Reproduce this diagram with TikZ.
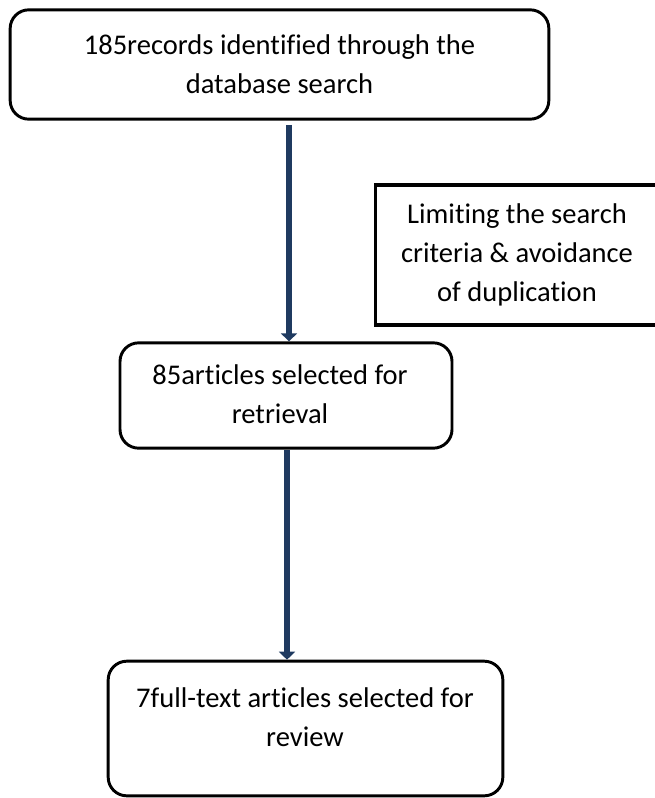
\documentclass[tikz,border=0pt]{standalone}
\usepackage{fontspec}
\setmainfont[Ligatures=NoCommon]{Carlito}
\usepackage{tikz}
\usepackage{xcolor}
\usetikzlibrary{positioning, fit, arrows.meta}

\definecolor{arrowblue}{HTML}{1F3A60}

\begin{document}
\begin{tikzpicture}[x=0.75pt, y=-0.75pt]
                % Define the styles for the boxes and the arrows
                \tikzstyle{roundbox}=[draw, line width=2.2pt, rounded corners=14pt, align=center, font=\fontsize{21.4}{29}\selectfont, inner sep=0pt];
                \tikzstyle{squarebox}=[draw, line width=2.4pt, align=center, font=\fontsize{21.4}{29}\selectfont, inner sep=0pt];
                \tikzstyle{flowarrow}=[draw=arrowblue, line width=5pt, -{Triangle[width=12pt, length=6pt]}, shorten >=0pt];

                % Page size
                \useasboundingbox (0,0) rectangle (654,798);

                % Boxes of the flow
                \node[roundbox, minimum width=404pt, minimum height=82pt] (records) at (279.5,64.5)
                    {185records identified through the\\database search};
                \node[squarebox, minimum width=212pt, minimum height=105pt] (limits) at (517,255)
                    {Limiting the search\\criteria \& avoidance\\of duplication};
                \node[roundbox, minimum width=249pt, minimum height=79pt] (retrieval) at (286,395.5)
                    {};
                \node[align=center, font=\fontsize{21.4}{29}\selectfont] (retrievaltext) at (280,394)
                    {85articles selected for\\retrieval};
                \node[roundbox, minimum width=296pt, minimum height=101pt] (review) at (305.5,728.5)
                    {};
                \node[align=center, font=\fontsize{21.4}{29}\selectfont] (reviewtext) at (305,717)
                    {7full-text articles selected for\\review};

                % Arrows between the boxes
                \coordinate (a1) at (289,125);
                \coordinate (a2) at (287,450);
                \draw[flowarrow] (a1) -- (a1 |- retrieval.north);
                \draw[flowarrow] (a2) -- (a2 |- review.north);

            \end{tikzpicture}
\end{document}
